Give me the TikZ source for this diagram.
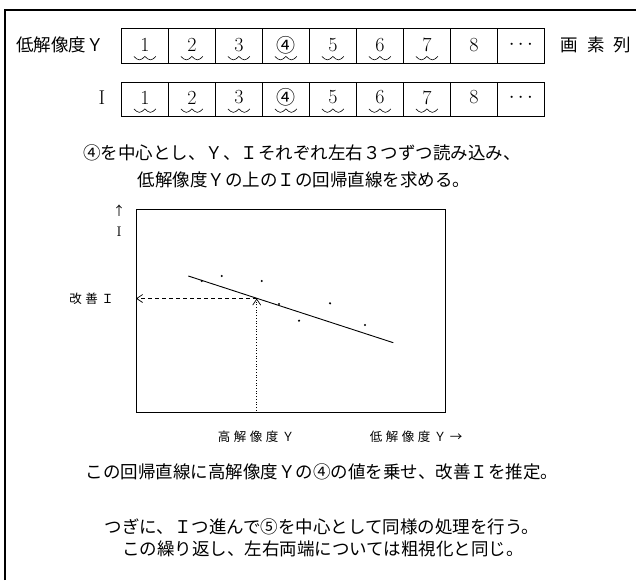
\documentclass[tikz,border=0pt]{standalone}
\usepackage{fontspec}
\newfontfamily\jp{Noto Sans CJK JP}
\usetikzlibrary{arrows.meta}
\newcommand{\lsp}{\hspace{3.5pt}}
\newcommand{\wavepath}{sin ++(5.5,3.5) cos ++(5.5,-3.5) sin ++(5.5,3.5) cos ++(5.5,-3.5)}
\tikzset{
  frame/.style={line width=1.2pt},
  cell/.style={draw, line width=0.8pt, minimum width=47pt, inner sep=0pt, anchor=north west},
  body/.style={font=\jp\fontsize{17.5pt}{21pt}\selectfont, inner sep=0pt},
  digit/.style={font=\fontsize{20pt}{22pt}\selectfont, inner sep=0pt},
  small/.style={font=\jp\fontsize{12.5pt}{14pt}\selectfont, inner sep=0pt},
  wave/.style={line width=0.6pt},
  dot/.style={fill, circle, inner sep=0pt, minimum size=2.4pt},
  barb/.style={-{Straight Barb[length=6pt,width=8pt]}},
}
\begin{document}
\begin{tikzpicture}[x=1pt,y=-1pt]
\useasboundingbox (0,0) rectangle (636,580);
% outer frame (top and left sides)
\coordinate (fbl) at (5,580);
\coordinate (ftl) at (5,10);
\coordinate (ftr) at (636,10);
\draw[frame] (fbl) -- (ftl) -- (ftr);

% pixel rows
\foreach \i/\t in {1/1,2/2,3/3,4/{\jp\fontsize{19pt}{21pt}\selectfont ④},5/5,6/6,7/7,8/8,9/{$\cdots$}} {
  \node[cell, minimum height=35pt] (a\i) at ({121+47*(\i-1)},28) {};
  \node[cell, minimum height=34pt] (b\i) at ({121+47*(\i-1)},82) {};
  \node[digit] (ad\i) at ([yshift=1pt]a\i.center) {\t};
  \node[digit] (bd\i) at ([yshift=2pt]b\i.center) {\t};
}
\foreach \i in {1,...,7} {
  \draw[wave] ([xshift=-11pt,yshift=-10.5pt]a\i.center) \wavepath;
  \draw[wave] ([xshift=-11pt,yshift=-9.5pt]b\i.center) \wavepath;
}
\node[body, anchor=west] (lowY) at (16,45) {低解像度Ｙ};
\node[digit] (rowI) at (102,98) {I};
\node[body] (pixcol) at (596,45) {画\hspace{9pt}素\hspace{9pt}列};

% explanation text
\node[body] (t1) at (302,153) {④を中心とし、Ｙ、Ｉそれぞれ左右３つずつ読み込み、};
\node[body] (t2) at (304,180) {低解像度Ｙの上のＩの回帰直線を求める。};

% regression plot
\node[draw, line width=1pt, minimum width=309pt, minimum height=203pt, inner sep=0pt, anchor=north west] (plot) at (136,209) {};
\node[small] (uparr) at (119,211) {↑};
\node[font=\fontsize{14pt}{16pt}\selectfont, inner sep=0pt] (axI) at (119,232) {I};
\coordinate (r1) at (188.3,276);
\coordinate (r2) at (393.3,342.7);
\draw[line width=0.9pt] (r1) -- (r2);
\node[dot] (p1) at (201.7,281) {};
\node[dot] (p2) at (221.7,276) {};
\node[dot] (p3) at (261.7,281) {};
\node[dot] (p4) at (279,304) {};
\node[dot] (p5) at (299,320.7) {};
\node[dot] (p6) at (330,303.3) {};
\node[dot] (p7) at (365,325) {};
\coordinate (hit) at (256.7,298.5);
\coordinate (foot) at (hit |- plot.south);
\coordinate (side) at (hit -| plot.west);
\draw[line width=0.7pt, dotted, barb] (foot) -- (hit);
\draw[line width=0.7pt, dashed, dash pattern=on 4pt off 3pt, barb] (hit) -- (side);
\node[small, anchor=east] (impI) at (114,299) {改\lsp 善\lsp Ｉ};
\node[small] (highY) at (256,437) {高\lsp 解\lsp 像\lsp 度\lsp Ｙ};
\node[small] (lowY2) at (416,437) {低\lsp 解\lsp 像\lsp 度\lsp Ｙ\lsp →};

% bottom text
\node[body] (b1t) at (322,472) {この回帰直線に高解像度Ｙの④の値を乗せ、改善Ｉを推定。};
\node[body] (b2t) at (322,527) {つぎに、Ｉつ進んで⑤を中心として同様の処理を行う。};
\node[body] (b3t) at (323,549) {この繰り返し、左右両端については粗視化と同じ。};
\end{tikzpicture}
\end{document}
